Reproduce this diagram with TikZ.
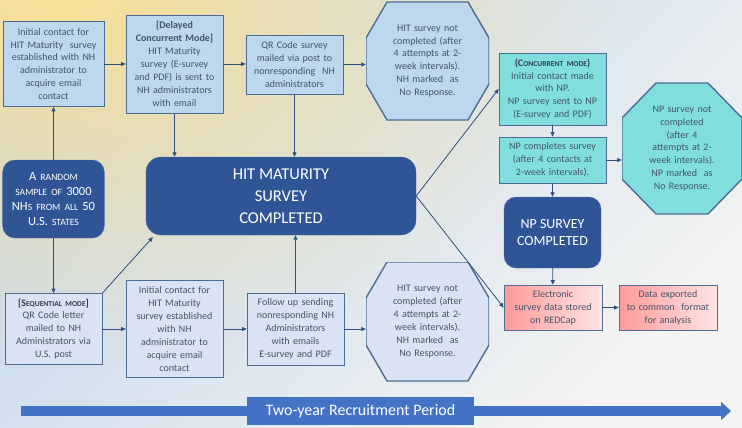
\documentclass[tikz,border=0pt]{standalone}
\usepackage{fontspec}
\setmainfont{Carlito}
\usepackage{tikz}
\usetikzlibrary{arrows.meta,calc,fadings}
\definecolor{paleBlue}  {HTML}{BDD7EE}
\definecolor{paleBlueLt}{HTML}{DAE3F3}
\definecolor{edge}      {HTML}{4E6D94}
\definecolor{txt}       {HTML}{44546A}
\definecolor{txtDk}     {HTML}{333F50}
\definecolor{tealFill}  {HTML}{80DFDC}
\definecolor{navy}      {HTML}{2F5597}
\definecolor{pinkL}     {HTML}{FF9A9A}
\definecolor{pinkR}     {HTML}{FFE4E4}
\definecolor{arrowBlue} {HTML}{2F4F7F}
\definecolor{tlBlue}    {HTML}{4472C4}
\definecolor{bgYellow}  {HTML}{FCE092}
\definecolor{bgBlue}    {HTML}{C4D8EC}
\definecolor{bgWhite}   {HTML}{F4F4F2}
\tikzfading[name=glow, inner color=transparent!0, outer color=transparent!100]
% fake small caps
\newcommand{\fsc}[2][7.6]{{\fontsize{#1}{0}\selectfont\MakeUppercase{#2}}}

\begin{document}
\begin{tikzpicture}[x=1pt, y=-1pt,
   box/.style={rectangle, draw=edge, fill=paleBlue, line width=0.7pt, text=txt,
               align=center, inner xsep=3pt, inner ysep=2pt, text width=91pt,
               font=\fontsize{10}{12.9}\selectfont},
   lite/.style={box, fill=paleBlueLt},
   tealbox/.style={box, fill=tealFill, text width=101pt},
   redbox/.style={box, left color=pinkL, right color=pinkR, text width=92pt,
                  minimum height=45pt},
   oct/.style n args={3}{rectangle, inner sep=0pt, align=center, text=txt,
               font=\fontsize{10}{12.9}\selectfont,
               path picture={
                 \filldraw[draw=edge, fill=#1, line width=1.4pt]
                   ($(path picture bounding box.north west)+(#2,0)$)
                -- ($(path picture bounding box.north east)+(-#2,0)$)
                -- ($(path picture bounding box.north east)+(0,#3)$)
                -- ($(path picture bounding box.south east)+(0,-#3)$)
                -- ($(path picture bounding box.south east)+(-#2,0)$)
                -- ($(path picture bounding box.south west)+(#2,0)$)
                -- ($(path picture bounding box.south west)+(0,-#3)$)
                -- ($(path picture bounding box.north west)+(0,#3)$) -- cycle;}},
   done/.style={rectangle, rounded corners=12pt, draw=navy!80!white, fill=navy,
                text=white, align=center},
   arr/.style={draw=arrowBlue, line width=0.8pt,
               -{Triangle[length=4.5pt,width=4pt]}}
]
\useasboundingbox (0,0) rectangle (742,428);
\shade[top color=bgBlue, bottom color=bgWhite, shading angle=45] (0,0) rectangle (742,428);
\fill[bgYellow, path fading=glow] (60,-20) ellipse (560 and 390);

% top row
\node[box, text width=95pt, minimum height=85pt] (init1) at (53.5,64)
  {Initial contact for\\HIT Maturity\ \ survey\\established with NH\\administrator to\\acquire email\\contact};
\node[box, minimum height=98pt] (delayed) at (174.5,64)
  {\textbf{[Delayed}\\\textbf{Concurrent Mode]}\\HIT Maturity\\survey (E-survey\\and PDF) is sent to\\NH administrators\\with email};
\node[box, minimum height=59pt] (qr) at (294.5,64.5)
  {QR Code survey\\mailed via post to\\nonresponding\ \ NH\\administrators};
\node[oct={paleBlue}{21}{36}, text width=90pt, minimum width=123pt, minimum height=118pt] (oct1) at (427.5,61)
  {HIT survey not\\completed (after\\4 attempts at 2-\\week intervals).\\NH marked\ \ as\\No Response.};

% middle row
\node[done, minimum width=101pt, minimum height=78pt, text width=95pt,
      font=\fontsize{12.5}{15.2}\selectfont] (random) at (53.5,199)
  {A \fsc[9.6]{random}\\\fsc[9.6]{sample of} 3000\\NH\fsc[9.6]{s from all} 50\\U.S. \fsc[9.6]{states}};
\node[done, rounded corners=15pt, minimum width=270pt, minimum height=78pt,
      font=\fontsize{16.5}{22}\selectfont] (hitdone) at (281,196)
  {HIT MATURITY\\SURVEY\\COMPLETED};

% bottom row
\node[lite, minimum height=71pt] (seq) at (53.5,329)
  {\textcolor{txtDk}{\textbf{[S\fsc{equential mode}]}}\\QR Code letter\\mailed to NH\\Administrators via\\U.S. post};
\node[lite, minimum height=97pt] (init2) at (174.5,329)
  {Initial contact for\\HIT Maturity\\survey established\\with NH\\administrator to\\acquire email\\contact};
\node[lite, minimum height=72pt] (follow) at (295.5,329)
  {Follow up sending\\nonresponding NH\\Administrators\\with emails\\E-survey and PDF};
\node[oct={paleBlueLt}{21}{36}, text width=90pt, minimum width=123pt, minimum height=119pt] (oct2) at (427.5,321.5)
  {HIT survey not\\completed (after\\4 attempts at 2-\\week intervals).\\NH marked\ \ as\\No Response.};

% NP branch
\node[tealbox, minimum height=72pt] (conc) at (552.5,89)
  {\textcolor{txtDk}{\textbf{(C\fsc{oncurrent mode})}}\\Initial contact made\\with NP.\\NP survey sent to NP\\(E-survey and PDF)};
\node[tealbox, minimum height=46pt] (npcomp) at (552.5,160)
  {NP completes survey\\(after 4 contacts at\\2-week intervals).};
\node[oct={tealFill}{34}{35}, text width=90pt, minimum width=120pt, minimum height=131pt] (oct3) at (682,148.5)
  {NP survey not\\completed\\(after 4\\attempts at 2-\\week intervals).\\NP marked\ \ as\\No Response.};
\node[done, minimum width=97pt, minimum height=71pt,
      font=\fontsize{14}{17.3}\selectfont] (npdone) at (552.5,232.5)
  {NP SURVEY\\COMPLETED};
\node[redbox] (redcap) at (553,307.5)
  {Electronic\\survey data stored\\on REDCap};
\node[redbox] (export) at (668,307.5)
  {Data exported\\to common\ \ format\\for analysis};

% connectors
\draw[arr] (random) -- (init1);
\draw[arr] (random) -- (seq);
\foreach \a/\b in {init1/delayed, delayed/qr, seq/init2, init2/follow}
  \draw[arr] (\a.east) -- (\a.east -| \b.west);
\draw[arr] (qr.east) -- (qr.east -| oct1.west);
\draw[arr] (follow.east) -- (follow.east -| oct2.west);
\draw[arr] (delayed.south) -- (delayed.south |- hitdone.north);
\draw[arr] (qr.south) -- (qr.south |- hitdone.north);
\draw[arr] (follow.north) -- (follow.north |- hitdone.south);
\draw[arr] (seq.north east) -- ($(hitdone.south west)+(7,2)$);
\draw[arr] (hitdone.east) -- (conc.west);
\draw[arr] (hitdone.east) -- (redcap.west);
\draw[arr] (conc) -- (npcomp);
\draw[arr] (npcomp.east) -- (npcomp.east -| oct3.west);
\draw[arr] (npcomp) -- (npdone);
\draw[arr] (npdone) -- (redcap);
\draw[arr] (redcap) -- (export);

% recruitment period
\coordinate (tl0) at (21,411);
\coordinate (tl1) at (731,411);
\draw[draw=tlBlue, line width=10pt, -{Triangle[length=10pt,width=18pt]}] (tl0) -- (tl1);
\node[fill=tlBlue, text=white, minimum width=227pt, minimum height=28pt,
      font=\fontsize{16}{18}\selectfont] (period) at (360.5,411) {Two-year Recruitment Period};
\end{tikzpicture}
\end{document}
